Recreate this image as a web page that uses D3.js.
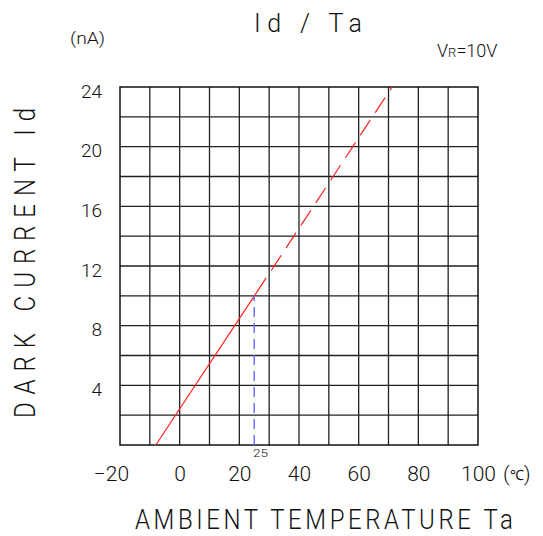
<!DOCTYPE html>
<html>
<head>
<meta charset="utf-8">
<script src="https://cdn.jsdelivr.net/npm/d3@7"></script>
<style>
  html, body { margin: 0; padding: 0; background: #fff; }
  svg { display: block; }
  text { font-family: Roboto, "Liberation Sans", Arial, sans-serif; font-weight: 300; fill: #111; }
</style>
</head>
<body>
<div id="chart"></div>
<script>
// ---- data ----
const xTickLabels = [-20, 0, 20, 40, 60, 80, 100];
const yTickLabels = [4, 8, 12, 16, 20, 24];
const xGrid = [-10, 0, 10, 20, 30, 40, 50, 60, 70, 80, 90];
const yGrid = [2, 4, 6, 8, 10, 12, 14, 16, 18, 20, 22];
// measured (solid) part of the dark current curve
const measuredTemp = [-8, 29];
const measuredId = [0, 11.2];
// extrapolated (dashed) part
const extrapTemp = [30.7, 71.2];
const extrapId = [11.7, 24];
// reference marker at 25 degC
const refTemp = [25, 25];
const refId = [0, 10];

const W = 543, H = 536;
const pLeft = 120, pRight = 478, pTop = 87, pBottom = 445;
const FONT = "Roboto, 'Liberation Sans', Arial, sans-serif";

const svg = d3.select("#chart").append("svg").attr("width", W).attr("height", H);

const x = d3.scaleLinear().domain([-20, 100]).range([pLeft, pRight]);
const y = d3.scaleLinear().domain([0, 24]).range([pBottom, pTop]);

// grid
const grid = svg.append("g").attr("stroke", "#222").attr("stroke-width", 1.3);
grid.selectAll("line.v").data(xGrid).join("line").attr("class", "v")
  .attr("x1", d => x(d)).attr("x2", d => x(d))
  .attr("y1", y(0)).attr("y2", y(24));
grid.selectAll("line.h").data(yGrid).join("line").attr("class", "h")
  .attr("x1", x(-20)).attr("x2", x(100))
  .attr("y1", d => y(d)).attr("y2", d => y(d));
svg.append("rect")
  .attr("x", x(-20)).attr("y", y(24))
  .attr("width", x(100) - x(-20)).attr("height", y(0) - y(24))
  .attr("fill", "none").attr("stroke", "#111").attr("stroke-width", 1.5);

// axes labels
const fmt = d => (d < 0 ? "\u2212" + Math.abs(d) : String(d));
const xAxis = svg.append("g").attr("transform", `translate(0,${pBottom})`)
  .call(d3.axisBottom(x).tickValues(xTickLabels).tickSize(0).tickFormat(fmt));
xAxis.select(".domain").remove();
xAxis.selectAll("text")
  .attr("y", 36).attr("dy", 0)
  .attr("dx", d => d < 0 ? -9 : 0)
  .style("font-size", "21px").style("font-weight", 300).style("fill", "#111")
  .style("font-family", FONT);

const yAxis = svg.append("g").attr("transform", `translate(${pLeft},0)`)
  .call(d3.axisLeft(y).tickValues(yTickLabels).tickSize(0).tickPadding(18));
yAxis.select(".domain").remove();
yAxis.selectAll("text")
  .attr("dy", 0).attr("y", 10)
  .style("font-size", "19px").style("font-weight", 300).style("fill", "#111")
  .style("font-family", FONT);

// unit (℃)
const unit = svg.append("text").attr("x", 503).attr("y", 481).style("font-size", "21px");
unit.append("tspan").text("(");
unit.append("tspan").style("font-size", "14px").attr("dy", -1).text("\u2103");
unit.append("tspan").attr("dy", 1).text(")");

// lines
const line = d3.line().x(d => x(d[0])).y(d => y(d[1]));
svg.append("path")
  .datum(d3.zip(measuredTemp, measuredId))
  .attr("d", line).attr("fill", "none").attr("stroke", "#ff2020").attr("stroke-width", 1.2);
svg.append("path")
  .datum(d3.zip(extrapTemp, extrapId))
  .attr("d", line).attr("fill", "none").attr("stroke", "#ff2020").attr("stroke-width", 1.2)
  .attr("stroke-dasharray", "18,9");
svg.append("path")
  .datum(d3.zip(refTemp, refId))
  .attr("d", line).attr("fill", "none").attr("stroke", "#6f6fff").attr("stroke-width", 1.5)
  .attr("stroke-dasharray", "10,6");

// small 25 label
svg.append("text").attr("x", 253).attr("y", 457)
  .style("font-size", "11px").attr("textLength", 15).attr("lengthAdjust", "spacingAndGlyphs")
  .text("25");

// titles
svg.append("text").attr("x", 254).attr("y", 32)
  .style("font-size", "25px").attr("textLength", 108).attr("lengthAdjust", "spacing")
  .text("Id / Ta");
svg.append("text").attr("x", 70).attr("y", 44)
  .style("font-size", "16px").attr("textLength", 35).attr("lengthAdjust", "spacingAndGlyphs")
  .text("(nA)");
const vr = svg.append("text").attr("x", 437).attr("y", 57).style("font-size", "18px");
vr.append("tspan").text("V");
vr.append("tspan").style("font-size", "13px").text("R");
vr.append("tspan").text("=10V");

svg.append("text")
  .attr("transform", "translate(135,529) scale(1,1.15)")
  .style("font-size", "24px").attr("textLength", 378).attr("lengthAdjust", "spacing")
  .text("AMBIENT TEMPERATURE Ta");
svg.append("text")
  .attr("transform", "translate(35,418) rotate(-90) scale(1,1.2)")
  .style("font-size", "24px").attr("textLength", 310).attr("lengthAdjust", "spacing")
  .text("DARK CURRENT Id");
</script>
</body>
</html>
